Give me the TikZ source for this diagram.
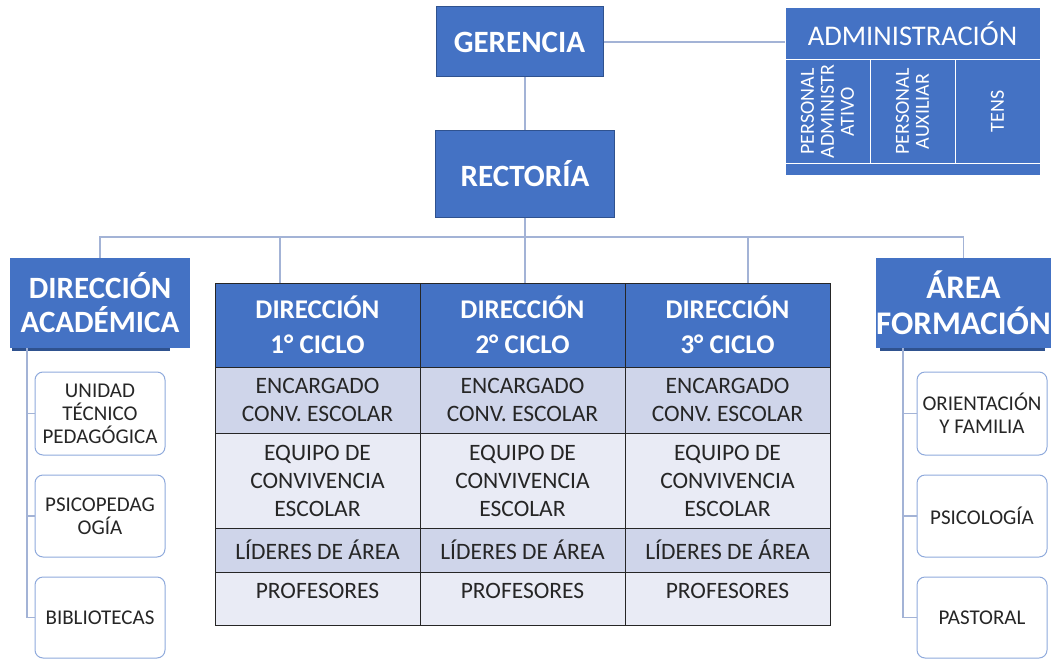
\documentclass[tikz,border=0pt]{standalone}
\usepackage{fontspec}
\setmainfont{Carlito}
\usetikzlibrary{positioning}
\definecolor{azul}{HTML}{4472C4}
\definecolor{azulosc}{HTML}{2F528F}
\definecolor{linea}{HTML}{A3B3D6}
\definecolor{borde}{HTML}{8FAADC}
\definecolor{filaA}{HTML}{CFD5EA}
\definecolor{filaB}{HTML}{E9EBF5}
\definecolor{texto}{HTML}{262626}
\tikzset{
  jefe/.style={draw=azulosc,line width=1pt,fill=azul,text=white,align=center,inner sep=0pt,
    font=\bfseries\fontsize{31}{34}\selectfont},
  area/.style={fill=azul,text=white,align=center,inner sep=0pt,minimum height=90pt,
    font=\bfseries\fontsize{31}{34}\selectfont},
  sub/.style={draw=borde,line width=1pt,fill=white,rounded corners=8pt,text=texto,align=center,
    minimum width=130pt,inner sep=1pt,font=\fontsize{21}{23}\selectfont},
  adm/.style={draw=white,line width=1pt,fill=azul,text=white,align=center,inner sep=0pt},
  vert/.style={adm,rotate=90,minimum width=103pt,minimum height=85pt,font=\fontsize{20}{20}\selectfont},
  cabeza/.style={draw=black!85,line width=1pt,fill=azul,text=white,align=center,inner sep=0pt,
    minimum width=205pt,minimum height=84pt,font=\bfseries\fontsize{27}{35}\selectfont},
  celda/.style={draw=black!85,line width=1pt,text=texto,align=center,inner sep=0pt,
    minimum width=205pt,font=\fontsize{23.5}{28}\selectfont},
  enlace/.style={draw=linea,line width=1.5pt}
}
\begin{document}
\begin{tikzpicture}[x=1pt,y=-1pt]
\useasboundingbox (0,0) rectangle (1056,658);
\node[jefe,minimum width=167pt,minimum height=70pt] (gerencia) at (519.5,42) {GERENCIA};
\node[jefe,minimum width=179pt,minimum height=87pt] (rectoria) at (525,173.5) {RECTORÍA};
\node[adm,minimum width=255pt,minimum height=52pt,font=\fontsize{28.5}{30}\selectfont] (admin) at (912.5,34) {ADMINISTRACIÓN};
\node[vert] (padm) at (827.5,111.5) {PERSONAL\\ADMINISTR\\ATIVO};
\node[vert] (paux) at (912.5,111.5) {PERSONAL\\AUXILIAR};
\node[vert] (tens) at (997.5,111.5) {TENS};
\node[adm,minimum width=255pt,minimum height=12pt] (pie) at (912.5,169) {};
\draw[enlace] (gerencia.east) -- (gerencia.east -| admin.west);
\draw[enlace] (rectoria.north) -- (rectoria.north |- gerencia.south);
\fill[azulosc] (12,345) rectangle (170,351);
\fill[azulosc] (880,345) rectangle (1045,351);
\node[area,minimum width=180pt] (dirac) at (100,303) {DIRECCIÓN\\ACADÉMICA};
\node[area,minimum width=173pt,font=\bfseries\fontsize{33}{36}\selectfont] (areaf) at (963.5,303) {ÁREA\\FORMACIÓN};
\node[sub,minimum height=83pt] (utp) at (100,413.5) {UNIDAD\\TÉCNICO\\PEDAGÓGICA};
\node[sub,minimum height=82pt] (psicop) at (100,516) {PSICOPEDAG\\OGÍA};
\node[sub,minimum height=81pt] (biblio) at (100,617.5) {BIBLIOTECAS};
\node[sub,minimum height=83pt] (orient) at (982,413.5) {ORIENTACIÓN\\Y FAMILIA};
\node[sub,minimum height=82pt] (psicol) at (982,516) {PSICOLOGÍA};
\node[sub,minimum height=81pt] (pastoral) at (982,617.5) {PASTORAL};
\foreach \i in {1,2,3}{
  \pgfmathsetmacro\cx{317.5+205*(\i-1)}
  \node[cabeza] (dir\i) at (\cx,325) {DIRECCIÓN\\\i° CICLO};
  \node[celda,fill=filaA,minimum height=66pt] (enc\i) at (\cx,400) {ENCARGADO\\CONV. ESCOLAR};
  \node[celda,fill=filaB,minimum height=95pt] (equ\i) at (\cx,480.5) {EQUIPO DE\\CONVIVENCIA\\ESCOLAR};
  \node[celda,fill=filaA,minimum height=44pt] (lid\i) at (\cx,550) {LÍDERES DE ÁREA};
  \node[celda,fill=filaB,minimum height=53pt,text depth=16pt] (prof\i) at (\cx,598.5) {PROFESORES};
}
\coordinate (barra) at (rectoria.south |- 0,237);
\coordinate (t1) at (280,283);
\coordinate (t3) at (748,283);
\coordinate (tallo) at (27,348);
\coordinate (talld) at (903,348);
\draw[enlace] (rectoria.south) -- (barra);
\draw[enlace] (dirac.north) |- (barra) -| (areaf.north);
\draw[enlace] (t1) -- (t1 |- barra);
\draw[enlace] (barra) -- (barra |- dir2.north);
\draw[enlace] (t3) -- (t3 |- barra);
\draw[enlace] (tallo) |- (utp.west);
\draw[enlace] (tallo) |- (psicop.west);
\draw[enlace] (tallo) |- (biblio.west);
\draw[enlace] (talld) |- (orient.west);
\draw[enlace] (talld) |- (psicol.west);
\draw[enlace] (talld) |- (pastoral.west);
\end{tikzpicture}
\end{document}
